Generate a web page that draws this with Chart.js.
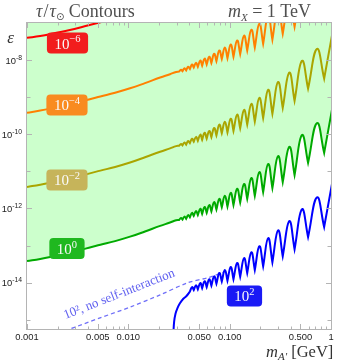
<!DOCTYPE html>
<html>
<head>
<meta charset="utf-8">
<script src="https://cdn.jsdelivr.net/npm/chart.js@4.4.0/dist/chart.umd.min.js"></script>
<style>
  html, body { margin: 0; padding: 0; background: #fff; }
  #wrap { width: 341px; height: 364px; }
</style>
</head>
<body>
<div id="wrap"><canvas id="contourChart"></canvas></div>
<script>
// dark photon mass (GeV) along the smooth, low-mass part of the contours
const smoothMass = [0.001, 0.00135, 0.0019, 0.00265, 0.0037, 0.0053, 0.0074, 0.0104, 0.0146, 0.0206, 0.0258, 0.0296];
// masses of the resonance cusps, and of the arch tops between them
const dipMass = [0.0317, 0.0342, 0.0372, 0.0405, 0.0442, 0.0485, 0.0535, 0.0593, 0.066, 0.074, 0.0836,
                 0.0951, 0.109, 0.127, 0.149, 0.177, 0.214, 0.264, 0.334, 0.437, 0.594, 0.856];
const peakMass = [0.0331, 0.0358, 0.039, 0.0425, 0.0466, 0.0513, 0.0566, 0.0629, 0.0703, 0.0791, 0.0897,
                  0.1025, 0.1186, 0.1388, 0.1637, 0.1964, 0.2399, 0.3005, 0.3877, 0.5173, 0.7275];
const endMass = 1.03;

const redSmooth = [-7.40, -7.35, -7.27, -7.19, -7.09, -6.98, -6.88, -6.76, -6.62, -6.47, -6.38, -6.32];

const orangeSmooth = [-9.42, -9.36, -9.28, -9.20, -9.09, -8.98, -8.88, -8.76, -8.62, -8.47, -8.38, -8.32];
const orangeDip = [-8.31, -8.30, -8.28, -8.24, -8.20, -8.18, -8.15, -8.12, -8.08, -8.03, -7.97,
                   -7.95, -7.91, -7.84, -7.74, -7.66, -7.56, -7.45, -7.29, -7.10, -6.77, -6.50];
const orangePeak = [-8.26, -8.22, -8.18, -8.12, -8.07, -8.01, -7.96, -7.91, -7.83, -7.74, -7.66,
                    -7.58, -7.47, -7.34, -7.18, -7.02, -6.80, -6.59, -6.34, -6.02, -5.70];
const orangeEnd = -5.29;

const oliveSmooth = [-11.42, -11.36, -11.28, -11.20, -11.09, -10.98, -10.88, -10.76, -10.62, -10.47, -10.38, -10.32];
const oliveDip = [-10.31, -10.30, -10.28, -10.24, -10.20, -10.18, -10.15, -10.12, -10.08, -10.03, -9.97,
                  -9.95, -9.91, -9.84, -9.74, -9.66, -9.56, -9.45, -9.29, -9.10, -8.77, -8.50];
const olivePeak = [-10.26, -10.22, -10.18, -10.12, -10.07, -10.01, -9.96, -9.91, -9.83, -9.74, -9.66,
                   -9.58, -9.47, -9.34, -9.18, -9.02, -8.80, -8.59, -8.34, -8.02, -7.70];
const oliveEnd = -7.29;

const greenSmooth = [-13.42, -13.36, -13.28, -13.20, -13.09, -12.98, -12.88, -12.76, -12.62, -12.47, -12.38, -12.32];
const greenDip = [-12.31, -12.30, -12.28, -12.24, -12.20, -12.18, -12.15, -12.12, -12.08, -12.03, -11.97,
                  -11.95, -11.91, -11.84, -11.74, -11.66, -11.56, -11.45, -11.29, -11.10, -10.77, -10.50];
const greenPeak = [-12.26, -12.22, -12.18, -12.12, -12.07, -12.01, -11.96, -11.91, -11.83, -11.74, -11.66,
                   -11.58, -11.47, -11.34, -11.18, -11.02, -10.80, -10.59, -10.34, -10.02, -9.70];
const greenEnd = -9.29;

// the 10^2 contour only starts near 0.028 GeV
const blueStartMass = [0.0278, 0.0283, 0.0292, 0.0306, 0.0324, 0.0347, 0.0375];
const blueStart = [-15.41, -15.06, -14.84, -14.68, -14.55, -14.44, -14.36];
const blueDip = [-14.24, -14.20, -14.18, -14.15, -14.12, -14.08, -14.03, -13.97, -13.95, -13.91,
                 -13.84, -13.74, -13.66, -13.56, -13.45, -13.29, -13.10, -12.77, -12.50];
const bluePeak = [-14.12, -14.07, -14.01, -13.96, -13.91, -13.83, -13.74, -13.66, -13.58, -13.47,
                  -13.34, -13.18, -13.02, -12.80, -12.59, -12.34, -12.02, -11.70];
const blueEnd = -11.29;

// 10^2 contour without self-interaction (dashed)
const noSelfMass = [0.00237, 0.00526, 0.0104, 0.0206, 0.038, 0.064, 0.0943];
const noSelf = [-15.30, -14.95, -14.66, -14.33, -14.01, -13.85, -13.68];

// contour labels: exponent of tau/tau_sun, anchor mass, anchor log10(eps)
const labelExp = ['\u22126', '\u22124', '\u22122', '0', '2'];
const labelMass = [0.00251, 0.00248, 0.00248, 0.00248, 0.140];
const labelLogEps = [-7.54, -9.21, -11.23, -13.08, -14.36];
const labelColors = ['#f21d1d', '#f98b20', '#c6b45a', '#1fb81f', '#1a1af5'];

// axis ticks
const xTickValues = [0.001, 0.005, 0.01, 0.05, 0.1, 0.5, 1];
const xTickLabels = ['0.001', '0.005', '0.010', '0.050', '0.100', '0.500', '1'];
const xDecades = [0.001, 0.01, 0.1];
const xMinorSteps = [2, 3, 4, 6, 7, 8, 9];
const yDecades = [-8, -9, -10, -11, -12, -13, -14, -15];
const yLabelled = [-8, -10, -12, -14];

function contour(sMass, sLog, dMass, dLog, pMass, pLog, eLog) {
    const pts = sMass.map((m, i) => ({ x: m, y: 10 ** sLog[i] }));
    dMass.forEach((m, i) => {
        const d = { x: m, y: 10 ** dLog[i] };
        pts.push(d, { x: m, y: d.y }); // doubled point -> sharp cusp
        if (i < pLog.length) pts.push({ x: pMass[i], y: 10 ** pLog[i] });
    });
    if (eLog !== undefined) pts.push({ x: endMass, y: 10 ** eLog });
    return pts;
}

const line = (label, data, color, extra) => Object.assign({
    label: label,
    data: data,
    borderColor: color,
    borderWidth: 2,
    pointRadius: 0,
    tension: 0.45,
    fill: false,
    clip: 0
}, extra || {});

function drawPower(ctx, base, exp, x, y, big, small, rise, align) {
    ctx.font = big;
    const wb = ctx.measureText(base).width;
    ctx.font = small;
    const we = ctx.measureText(exp).width;
    let left = x;
    if (align === 'right') left = x - wb - we;
    if (align === 'center') left = x - (wb + we) / 2;
    ctx.textAlign = 'left';
    ctx.font = big;
    ctx.fillText(base, left, y);
    ctx.font = small;
    ctx.fillText(exp, left + wb, y - rise);
    return wb + we;
}

// frame, inward ticks, labels and annotations
const decor = {
    id: 'decor',
    afterDraw(chart) {
        const { ctx, chartArea: a, scales: { x, y } } = chart;
        ctx.save();
        ctx.strokeStyle = '#b4b4b4';
        ctx.lineWidth = 1;
        ctx.strokeRect(a.left - 0.5, a.top - 0.5, a.right - a.left + 1, a.bottom - a.top + 1);

        ctx.beginPath();
        const xTick = (v, len) => {
            const px = Math.round(x.getPixelForValue(v)) + 0.5;
            ctx.moveTo(px, a.bottom); ctx.lineTo(px, a.bottom - len);
            ctx.moveTo(px, a.top); ctx.lineTo(px, a.top + len);
        };
        xDecades.forEach(d => xMinorSteps.forEach(k => xTick(d * k, 2.5)));
        xTickValues.forEach(v => xTick(v, 5));
        yDecades.forEach(e => {
            const py = Math.round(y.getPixelForValue(10 ** e)) + 0.5;
            const len = yLabelled.includes(e) ? 5 : 3.5;
            ctx.moveTo(a.left, py); ctx.lineTo(a.left + len, py);
            ctx.moveTo(a.right, py); ctx.lineTo(a.right - len, py);
        });
        ctx.stroke();

        // tick labels
        ctx.fillStyle = '#222';
        ctx.textBaseline = 'top';
        ctx.textAlign = 'center';
        ctx.font = '9.4px "Liberation Sans"';
        xTickValues.forEach((v, i) => ctx.fillText(xTickLabels[i], x.getPixelForValue(v), a.bottom + 4));
        ctx.textBaseline = 'alphabetic';
        yLabelled.forEach(e => {
            const py = y.getPixelForValue(10 ** e);
            drawPower(ctx, '10', '-' + (-e), a.left - 5, py + 3.5,
                '9.4px "Liberation Sans"', '6.8px "Liberation Sans"', 4, 'right');
        });

        // contour label boxes
        labelExp.forEach((ex, i) => {
            const cx = x.getPixelForValue(labelMass[i]);
            const cy = y.getPixelForValue(10 ** labelLogEps[i]);
            ctx.font = '15px "Liberation Serif"';
            const wb = ctx.measureText('10').width;
            ctx.font = '10.5px "Liberation Serif"';
            const w = wb + ctx.measureText(ex).width + 15;
            const h = 21;
            ctx.fillStyle = labelColors[i];
            ctx.beginPath();
            ctx.roundRect(cx - w / 2, cy - h / 2, w, h, 4);
            ctx.fill();
            ctx.fillStyle = '#fafafa';
            drawPower(ctx, '10', ex, cx, cy + 5.5, '15px "Liberation Serif"', '10.5px "Liberation Serif"', 6.5, 'center');
        });

        // note along the dashed curve
        ctx.save();
        ctx.translate(x.getPixelForValue(0.00838), y.getPixelForValue(10 ** -14.40));
        ctx.rotate(-21.4 * Math.PI / 180);
        ctx.fillStyle = '#6262f0';
        ctx.font = '13px "Liberation Serif"';
        ctx.textAlign = 'center';
        ctx.fillText('10\u00b2, no self-interaction', 0, 0);
        ctx.restore();

        // titles and axis names
        ctx.fillStyle = '#505050';
        ctx.textAlign = 'left';
        let cx = 36;
        ctx.font = 'italic 18px "Liberation Serif"';
        ctx.fillText('\u03c4', cx, 17); cx += ctx.measureText('\u03c4').width + 1;
        ctx.font = '18px "Liberation Serif"';
        ctx.fillText('/', cx, 17); cx += ctx.measureText('/').width + 1;
        ctx.font = 'italic 18px "Liberation Serif"';
        ctx.fillText('\u03c4', cx, 17); cx += ctx.measureText('\u03c4').width;
        ctx.font = '10px "DejaVu Sans"';
        ctx.fillText('\u2299', cx, 20); cx += ctx.measureText('\u2299').width;
        ctx.font = '18px "Liberation Serif"';
        ctx.fillText(' Contours', cx, 17);

        cx = 228;
        ctx.font = 'italic 18px "Liberation Serif"';
        ctx.fillText('m', cx, 17); cx += ctx.measureText('m').width;
        ctx.font = 'italic 11px "Liberation Serif"';
        ctx.fillText('X', cx, 20.5); cx += ctx.measureText('X').width;
        ctx.font = '18px "Liberation Serif"';
        ctx.fillText(' = 1 TeV', cx, 17);

        ctx.fillStyle = '#333';
        ctx.font = 'italic 17px "Liberation Serif"';
        ctx.textAlign = 'center';
        ctx.fillText('\u03b5', 10.5, 43);

        ctx.textAlign = 'left';
        cx = 266;
        ctx.font = 'italic 16.5px "Liberation Serif"';
        ctx.fillText('m', cx, 357); cx += ctx.measureText('m').width;
        ctx.font = 'italic 11px "Liberation Serif"';
        ctx.fillText('A\u2032', cx, 360); cx += ctx.measureText('A\u2032').width;
        ctx.font = '16.5px "Liberation Serif"';
        ctx.fillText(' [GeV]', cx, 357);
        ctx.restore();
    }
};

const config = {
    type: 'line',
    data: {
        datasets: [
            line('10^-6', contour(smoothMass, redSmooth, [], [], [], []), '#ff0000'),
            line('10^-4', contour(smoothMass, orangeSmooth, dipMass, orangeDip, peakMass, orangePeak, orangeEnd), '#ff8000'),
            line('10^-2', contour(smoothMass, oliveSmooth, dipMass, oliveDip, peakMass, olivePeak, oliveEnd), '#aaa500'),
            line('10^2', contour(blueStartMass, blueStart, dipMass.slice(3), blueDip, peakMass.slice(3), bluePeak, blueEnd), '#0000ff'),
            line('10^2 no self-interaction', noSelfMass.map((m, i) => ({ x: m, y: 10 ** noSelf[i] })), '#6f6ff8',
                { borderWidth: 1.3, borderDash: [4, 3], tension: 0.3 }),
            line('10^0', contour(smoothMass, greenSmooth, dipMass, greenDip, peakMass, greenPeak, greenEnd), '#00aa00',
                { fill: 'end', backgroundColor: '#ccffcc' })
        ]
    },
    options: {
        responsive: true,
        maintainAspectRatio: false,
        animation: false,
        layout: { padding: { left: 27, top: 23, right: 10, bottom: 35 } },
        plugins: { legend: { display: false }, tooltip: { enabled: false } },
        scales: {
            x: { type: 'logarithmic', min: 0.001, max: 1, bounds: 'data', display: false },
            y: { type: 'logarithmic', min: 10 ** -15.25, max: 1e-7, bounds: 'data', display: false }
        }
    },
    plugins: [decor]
};

window.onload = function() {
    const ctx = document.getElementById('contourChart').getContext('2d');
    new Chart(ctx, config);
};
</script>
</body>
</html>
